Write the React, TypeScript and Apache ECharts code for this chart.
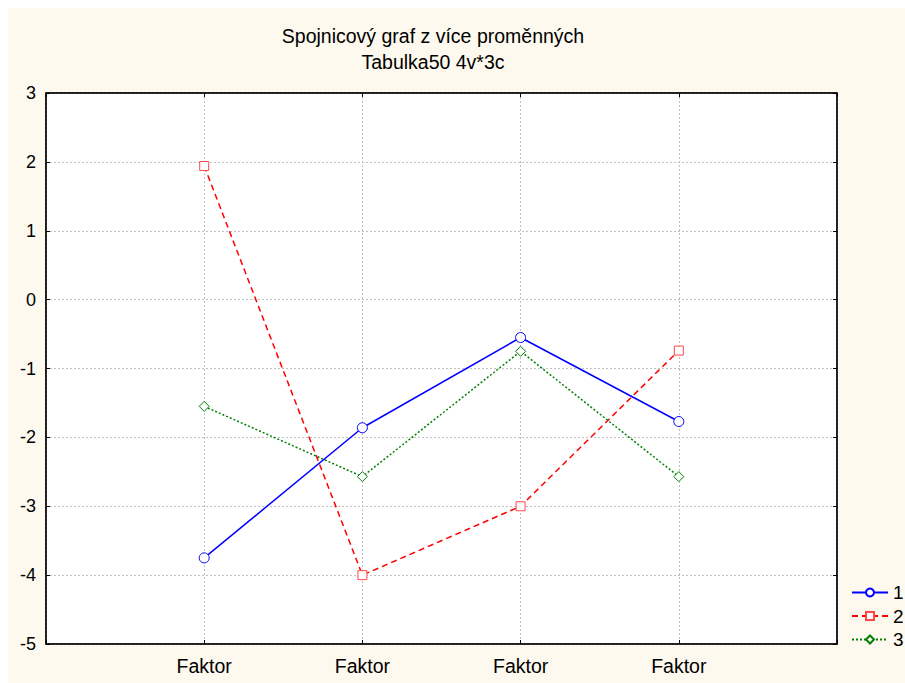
import React, { useEffect, useRef } from "react";
import * as echarts from "echarts";

const categories = ["Faktor", "Faktor", "Faktor", "Faktor"];
const series1 = [-3.75, -1.86, -0.55, -1.77];
const series2 = [1.94, -4.0, -3.0, -0.74];
const series3 = [-1.55, -2.57, -0.75, -2.57];
const seriesNames = ["1", "2", "3"];
const yTicks = [-5, -4, -3, -2, -1, 0, 1, 2, 3];
const titleText = "Spojnicový graf z více proměnných";
const subtitleText = "Tabulka50 4v*3c";

const FONT = "Liberation Sans, Arial, sans-serif";

export default function App() {
  const ref = useRef<HTMLDivElement>(null);
  useEffect(() => {
    document.body.style.margin = "0";
    document.body.style.overflow = "hidden";
    const chart = echarts.init(ref.current!, undefined, { renderer: "svg" });
    const toPts = (arr: number[]) => arr.map((v, i) => [i + 1, v]);
    const tickAxisCommon = {
      axisLine: { show: true, onZero: false, lineStyle: { color: "#000", width: 1.5 } },
      axisTick: { show: true, inside: true, length: 4, lineStyle: { color: "#000" } },
    };
    chart.setOption({
      animation: false,
      backgroundColor: "#FEF9EE",
      graphic: [
        {
          type: "text",
          x: 425,
          y: 27.5,
          style: {
            text: titleText,
            font: `19.5px ${FONT}`,
            fill: "#000",
            textAlign: "center",
            textVerticalAlign: "middle",
          },
        },
        {
          type: "text",
          x: 425,
          y: 53.5,
          style: {
            text: subtitleText,
            font: `19.5px ${FONT}`,
            fill: "#000",
            textAlign: "center",
            textVerticalAlign: "middle",
          },
        },
      ],
      legend: {
        orient: "vertical",
        left: 838,
        top: 570,
        itemWidth: 36,
        itemHeight: 10,
        itemGap: 4.5,
        textStyle: { fontFamily: FONT, fontSize: 19, color: "#000" },
        data: seriesNames,
      },
      grid: {
        left: 38,
        top: 85,
        width: 791,
        height: 551,
        show: true,
        backgroundColor: "#fff",
        borderColor: "#000",
        borderWidth: 1,
      },
      xAxis: [
        {
          type: "value",
          min: 0,
          max: 5,
          interval: 1,
          position: "bottom",
          ...tickAxisCommon,
          splitLine: { show: true, lineStyle: { color: "#c0c0c0", type: [2, 2] } },
          axisLabel: {
            fontFamily: FONT,
            fontSize: 19.5,
            color: "#000",
            margin: 12,
            formatter: (v: number) => (v >= 1 && v <= categories.length ? categories[v - 1] : ""),
          },
        },
        {
          type: "value",
          min: 0,
          max: 5,
          interval: 1,
          position: "top",
          ...tickAxisCommon,
          splitLine: { show: false },
          axisLabel: { show: false },
        },
      ],
      yAxis: [
        {
          type: "value",
          min: yTicks[0],
          max: yTicks[yTicks.length - 1],
          interval: 1,
          position: "left",
          ...tickAxisCommon,
          splitLine: { show: true, lineStyle: { color: "#c0c0c0", type: [2, 2] } },
          axisLabel: { fontFamily: FONT, fontSize: 18, color: "#000", margin: 10 },
        },
        {
          type: "value",
          min: yTicks[0],
          max: yTicks[yTicks.length - 1],
          interval: 1,
          position: "right",
          ...tickAxisCommon,
          splitLine: { show: false },
          axisLabel: { show: false },
        },
      ],
      series: [
        {
          name: seriesNames[0],
          type: "line",
          data: toPts(series1),
          symbol: "circle",
          symbolSize: 10,
          lineStyle: { color: "#0000FF", width: 1.5, type: "solid" },
          itemStyle: { color: "#fff", borderColor: "#0000FF", borderWidth: 1 },
          z: 3,
        },
        {
          name: seriesNames[1],
          type: "line",
          data: toPts(series2),
          symbol: "rect",
          symbolSize: 9,
          lineStyle: { color: "#FF0000", width: 1.5, type: [6, 4] },
          itemStyle: { color: "#fff", borderColor: "#FF4848", borderWidth: 1 },
          z: 2,
        },
        {
          name: seriesNames[2],
          type: "line",
          data: toPts(series3),
          symbol: "diamond",
          symbolSize: 10,
          lineStyle: { color: "#008000", width: 1.5, type: [2, 2] },
          itemStyle: { color: "#fff", borderColor: "#008000", borderWidth: 1 },
          z: 2,
        },
      ],
    });
    return () => chart.dispose();
  }, []);
  return (
    <div style={{ position: "relative", width: 905, height: 683, overflow: "hidden", background: "#fff" }}>
      <div ref={ref} style={{ position: "absolute", left: 8, top: 8, width: 897, height: 675 }} />
    </div>
  );
}
